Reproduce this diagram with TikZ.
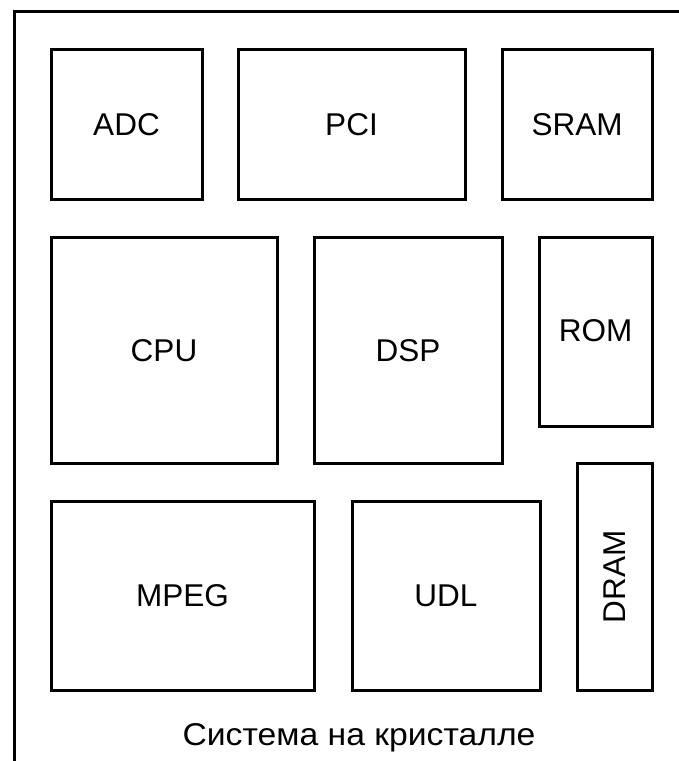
\documentclass[tikz,border=0pt]{standalone}
\usepackage{fontspec}
\setmainfont{Liberation Sans}
\begin{document}
\begin{tikzpicture}[x=1pt,y=-1pt,
  blk/.style={draw=black, line width=3pt, inner sep=0pt, outer sep=0pt,
    font=\fontsize{31.5}{37}\selectfont, text height=22pt, text depth=0pt},
  lbl/.style={inner sep=0pt, font=\fontsize{31.5}{37}\selectfont, text height=22pt, text depth=0pt}]
\useasboundingbox (0,0) rectangle (679,761);
\clip (0,0) rectangle (679,761);
\fill[white] (0,0) rectangle (679,761);
\draw[line width=3pt] (14,800) -- (14,11) -- (720,11);
\node[blk, minimum width=151pt, minimum height=150pt] (adc) at (126.5,124) {ADC};
\node[blk, minimum width=227pt, minimum height=150pt] (pci) at (351.5,124) {PCI};
\node[blk, minimum width=150pt, minimum height=150pt] (sram) at (577,124) {SRAM};
\node[blk, minimum width=226pt, minimum height=226pt] (cpu) at (164,350) {CPU};
\node[blk, minimum width=188pt, minimum height=226pt] (dsp) at (408,350) {DSP};
\node[blk, minimum width=113pt, minimum height=189pt] (rom) at (595.5,331.5) {};
\node[lbl] (romtext) at (595.5,330) {ROM};
\node[blk, minimum width=263pt, minimum height=189pt] (mpeg) at (182.5,595.5) {MPEG};
\node[blk, minimum width=188pt, minimum height=189pt] (udl) at (446,595.5) {UDL};
\node[blk, minimum width=75pt, minimum height=227pt] (dram) at (614.5,576.5) {};
\node[lbl, rotate=90] (dramtext) at (614.5,577) {DRAM};
\node[lbl, font=\fontsize{31.5}{37}\selectfont, xscale=1.07] (title) at (359,734) {Система на кристалле};
\end{tikzpicture}
\end{document}
